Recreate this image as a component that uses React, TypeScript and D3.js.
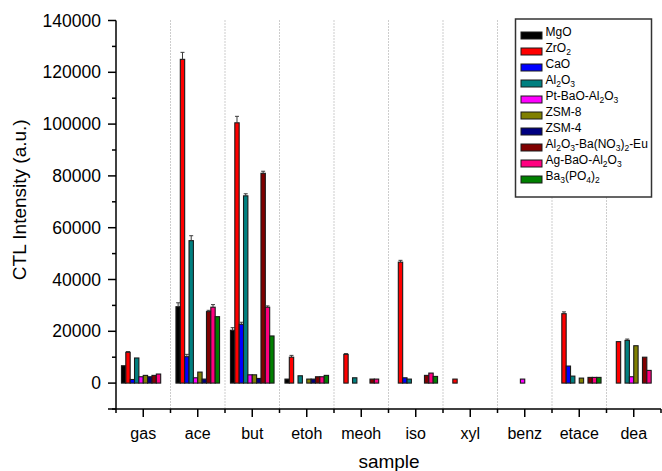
import React from "react";
import * as d3 from "d3";

const categories = ["gas", "ace", "but", "etoh", "meoh", "iso", "xyl", "benz", "etace", "dea"];

type Val = number | null;

const mgo: Val[] = [6700, 29500, 20400, 1550, null, null, null, null, null, null];
const zro2: Val[] = [11900, 125000, 100500, 10000, 11100, 46700, 1550, null, 26800, 16000];
const cao: Val[] = [1400, 10200, 22700, null, null, 2050, null, null, 6580, null];
const al2o3: Val[] = [9700, 55000, 72300, 2830, 2050, 1550, null, null, 2700, 16500];
const ptBaoAl2o3: Val[] = [2450, 2050, 3200, null, null, null, null, 1550, null, 2450];
const zsm8: Val[] = [2980, 4250, 3200, 1550, null, null, null, null, 1930, 14430];
const zsm4: Val[] = [2450, 1550, 1800, 1550, null, null, null, null, null, null];
const al2o3BaEu: Val[] = [2980, 27600, 81000, 2450, 1550, 2980, null, null, 2200, 10000];
const agBaoAl2o3: Val[] = [3500, 29300, 29300, 2450, 1550, 3870, null, null, 2200, 4900];
const ba3po42: Val[] = [null, 25650, 18200, 2980, null, 2580, null, null, 2200, null];

const mgoErr = [0, 1500, 1000, 0, 0, 0, 0, 0, 0, 0];
const zro2Err = [300, 2700, 2500, 700, 300, 700, 0, 0, 700, 0];
const caoErr = [0, 900, 800, 0, 0, 0, 0, 0, 0, 0];
const al2o3Err = [0, 1900, 800, 0, 0, 0, 0, 0, 0, 500];
const noErr = [0, 0, 0, 0, 0, 0, 0, 0, 0, 0];
const al2o3BaEuErr = [0, 500, 800, 0, 0, 0, 0, 0, 0, 0];
const agErr = [0, 1000, 500, 0, 0, 0, 0, 0, 0, 0];

// legend label parts: [text, isSubscript]
type Part = [string, boolean];
const series: { parts: Part[]; color: string; values: Val[]; err: number[] }[] = [
  { parts: [["MgO", false]], color: "#000000", values: mgo, err: mgoErr },
  { parts: [["ZrO", false], ["2", true]], color: "#FF0000", values: zro2, err: zro2Err },
  { parts: [["CaO", false]], color: "#0000FF", values: cao, err: caoErr },
  { parts: [["Al", false], ["2", true], ["O", false], ["3", true]], color: "#008080", values: al2o3, err: al2o3Err },
  { parts: [["Pt-BaO-Al", false], ["2", true], ["O", false], ["3", true]], color: "#FF00FF", values: ptBaoAl2o3, err: noErr },
  { parts: [["ZSM-8", false]], color: "#808000", values: zsm8, err: noErr },
  { parts: [["ZSM-4", false]], color: "#000080", values: zsm4, err: noErr },
  {
    parts: [["Al", false], ["2", true], ["O", false], ["3", true], ["-Ba(NO", false], ["3", true], [")", false], ["2", true], ["-Eu", false]],
    color: "#800000",
    values: al2o3BaEu,
    err: al2o3BaEuErr,
  },
  { parts: [["Ag-BaO-Al", false], ["2", true], ["O", false], ["3", true]], color: "#FF0080", values: agBaoAl2o3, err: agErr },
  { parts: [["Ba", false], ["3", true], ["(PO", false], ["4", true], [")", false], ["2", true]], color: "#008000", values: ba3po42, err: noErr },
];

const yMajor = [0, 20000, 40000, 60000, 80000, 100000, 120000, 140000];
const yMinor = [-10000, 10000, 30000, 50000, 70000, 90000, 110000, 130000];

const W = 662;
const H = 471;
const FONT = "Arial, 'Liberation Sans', Helvetica, sans-serif";

export default function App() {
  const left = 116;
  const right = 661;
  const top = 20.5;
  const bottom = 409;

  const x0 = d3.scaleBand<string>().domain(categories).range([left, right]).paddingInner(0).paddingOuter(0);
  const bw = x0.bandwidth();
  const x1 = d3
    .scaleBand<number>()
    .domain(d3.range(series.length))
    .range([bw * 0.1, bw * 0.9])
    .padding(0);
  const y = d3.scaleLinear().domain([-10000, 140000]).range([bottom, top]);

  const boundaries = d3.range(categories.length + 1).map((i) => left + i * bw);

  const renderParts = (parts: Part[]) =>
    parts.map(([t, sub], i) =>
      sub ? (
        <tspan key={i} fontSize={8.5} dy={3}>
          {t}
        </tspan>
      ) : (
        <tspan key={i} dy={i > 0 && parts[i - 1][1] ? -3 : 0}>
          {t}
        </tspan>
      )
    );

  return (
    <svg
      width={W}
      height={H}
      style={{ position: "absolute", left: 0, top: 0, background: "#fff" }}
      fontFamily={FONT}
    >
      <rect width={W} height={H} fill="#fff" />
      {/* dotted group separators */}
      {boundaries.slice(1, -1).map((bx, i) => (
        <line key={i} x1={bx} x2={bx} y1={top} y2={bottom} stroke="#9a9a9a" strokeWidth={1} strokeDasharray="1,2" />
      ))}

      {/* bars */}
      {series.map((s, si) =>
        categories.map((c, ci) => {
          const v = s.values[ci];
          if (v === null) return null;
          const bx = (x0(c) as number) + (x1(si) as number);
          const w = x1.bandwidth();
          const y0 = y(0);
          const yv = y(v);
          const e = s.err[ci];
          return (
            <g key={`${si}-${ci}`}>
              <rect x={bx} y={yv} width={w} height={y0 - yv} fill={s.color} stroke="#1a1a1a" strokeWidth={1.1} />
              {e > 0 && (
                <g stroke="#3a3a3a" strokeWidth={1}>
                  <line x1={bx + w / 2} x2={bx + w / 2} y1={yv} y2={y(v + e)} />
                  <line x1={bx + w / 2 - 2} x2={bx + w / 2 + 2} y1={y(v + e)} y2={y(v + e)} />
                </g>
              )}
            </g>
          );
        })
      )}

      {/* y axis */}
      <line x1={left} x2={left} y1={top} y2={bottom} stroke="#000" strokeWidth={1.5} />
      {yMajor.map((t) => (
        <g key={t}>
          <line x1={left - 8} x2={left} y1={y(t)} y2={y(t)} stroke="#000" strokeWidth={1.5} />
          <text x={left - 15} y={y(t)} dy="0.35em" textAnchor="end" fontSize={17.5} fill="#000">
            {t}
          </text>
        </g>
      ))}
      {yMinor.map((t) => (
        <line key={t} x1={left - 4} x2={left} y1={y(t)} y2={y(t)} stroke="#000" strokeWidth={1.5} />
      ))}

      {/* x axis */}
      <line x1={left - 8} x2={right} y1={bottom} y2={bottom} stroke="#000" strokeWidth={1.5} />
      {categories.map((c) => {
        const cx = (x0(c) as number) + bw / 2;
        return (
          <g key={c}>
            <line x1={cx} x2={cx} y1={bottom} y2={bottom + 8} stroke="#000" strokeWidth={1.5} />
            <text x={cx} y={439} textAnchor="middle" fontSize={16} fill="#000">
              {c}
            </text>
          </g>
        );
      })}
      {boundaries.map((bx, i) => (
        <line key={i} x1={bx} x2={bx} y1={bottom} y2={bottom + 4} stroke="#000" strokeWidth={1.5} />
      ))}

      {/* axis titles */}
      <text x={389} y={468} textAnchor="middle" fontSize={19} fill="#000">
        sample
      </text>
      <text
        transform={`translate(26, ${(top + bottom) / 2 - 15}) rotate(-90)`}
        textAnchor="middle"
        fontSize={19}
        fill="#000"
      >
        CTL Intensity (a.u.)
      </text>

      {/* legend */}
      <rect x={515.5} y={19} width={136} height={178} fill="#fff" stroke="#333" strokeWidth={1.5} />
      {series.map((s, i) => {
        const cy = 35.5 + i * 16;
        return (
          <g key={i}>
            <rect x={521} y={cy - 3.5} width={21} height={7} fill={s.color} stroke="#1a1a1a" strokeWidth={1} />
            <text x={545.5} y={cy} dy="0.36em" fontSize={12} fill="#000">
              {renderParts(s.parts)}
            </text>
          </g>
        );
      })}
    </svg>
  );
}
